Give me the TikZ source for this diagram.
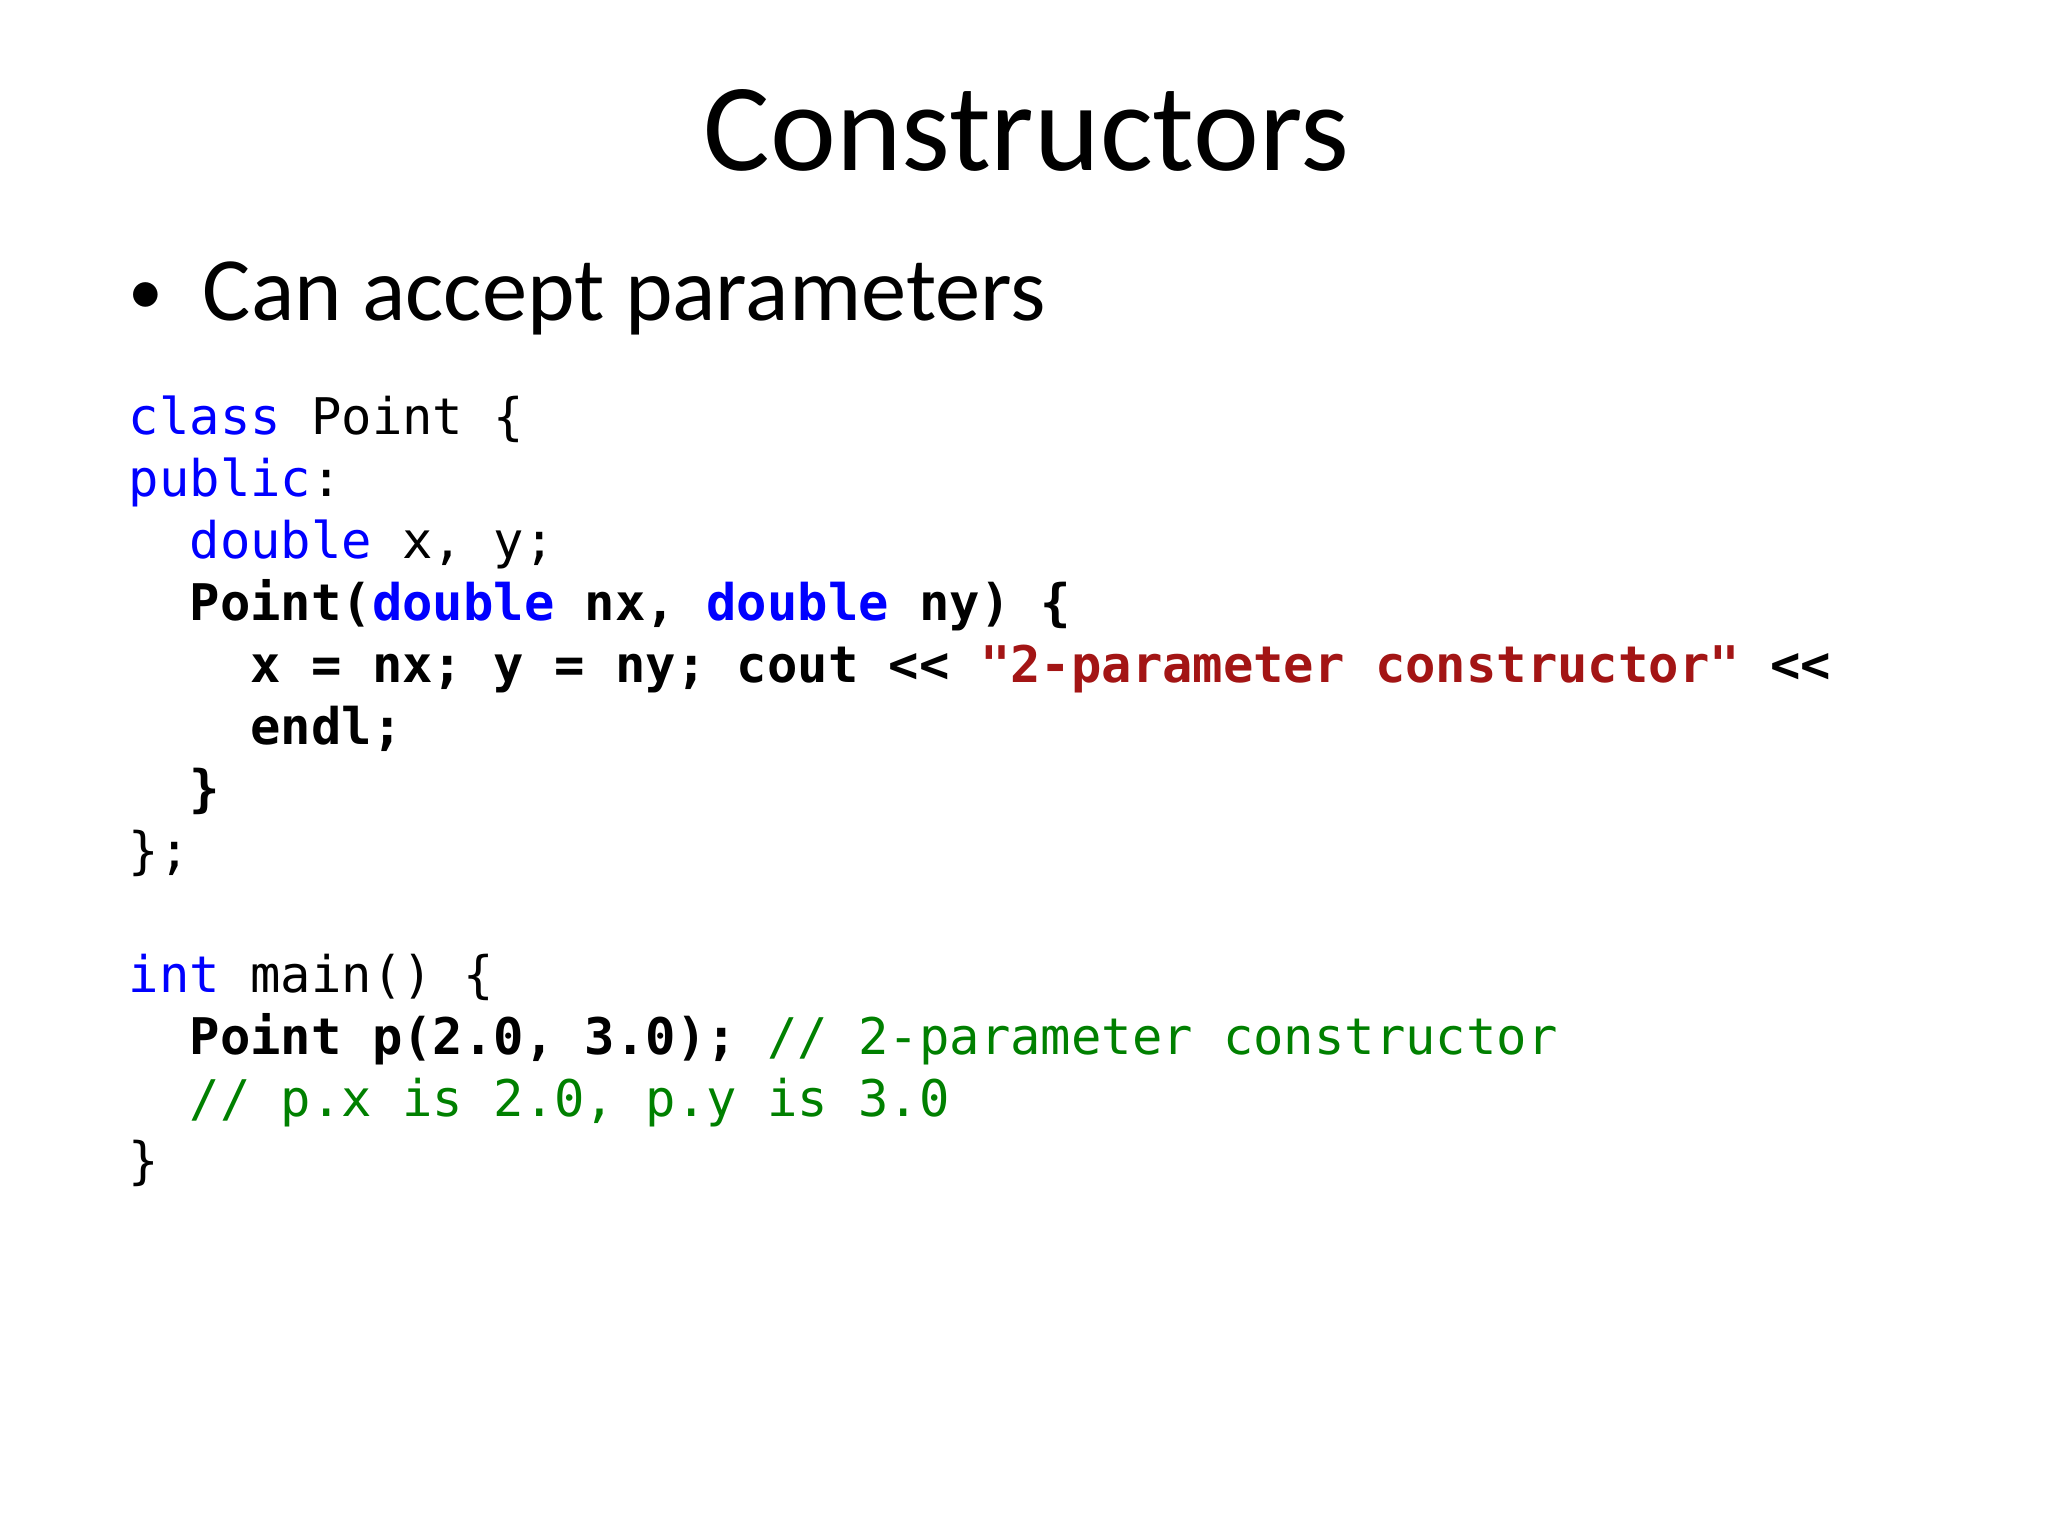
\documentclass[tikz,border=0pt]{standalone}
\usepackage{fontspec}
\setmainfont{Carlito}
\newfontfamily\codefont{DejaVu Sans Mono}
\definecolor{kw}{RGB}{0,0,255}
\definecolor{str}{RGB}{163,21,21}
\definecolor{cmt}{RGB}{0,128,0}
\begin{document}
\begin{tikzpicture}[x=0.01cm,y=-0.01cm,
  code/.style={anchor=base west,inner sep=0,font=\codefont\fontsize{10.88}{13}\selectfont}]
\useasboundingbox (0,0) rectangle (1552,1164);
\node[anchor=base,inner sep=0,font=\fontsize{26.9}{32}\selectfont] (title) at (778,129) {Constructors};
\node[anchor=base west,inner sep=0,font=\fontsize{15}{18}\selectfont] (bul) at (97,238) {\textbullet};
\node[anchor=base west,inner sep=0,font=\fontsize{19.5}{24}\selectfont] (b1) at (153,243) {Can accept parameters};
\node[code] (l1) at (97,329) {\textcolor{kw}{class} Point \{};
\node[code] (l2) at (97,376) {\textcolor{kw}{public}:};
\node[code] (l3) at (97,423) {\ \ \textcolor{kw}{double} x, y;};
\node[code] (l4) at (97,470) {\ \ \textbf{Point(\textcolor{kw}{double} nx, \textcolor{kw}{double} ny) \{}};
\node[code] (l5) at (97,517) {\ \ \ \ \textbf{x = nx; y = ny; cout << \textcolor{str}{"2-parameter constructor"} <<}};
\node[code] (l6) at (97,564) {\ \ \ \ \textbf{endl;}};
\node[code] (l7) at (97,611) {\ \ \textbf{\}}};
\node[code] (l8) at (97,658) {\};};
\node[code] (l9) at (97,752) {\textcolor{kw}{int} main() \{};
\node[code] (l10) at (97,799) {\ \ \textbf{Point p(2.0, 3.0);} \textcolor{cmt}{// 2-parameter constructor}};
\node[code] (l11) at (97,846) {\ \ \textcolor{cmt}{// p.x is 2.0, p.y is 3.0}};
\node[code] (l12) at (97,893) {\}};
\end{tikzpicture}
\end{document}
